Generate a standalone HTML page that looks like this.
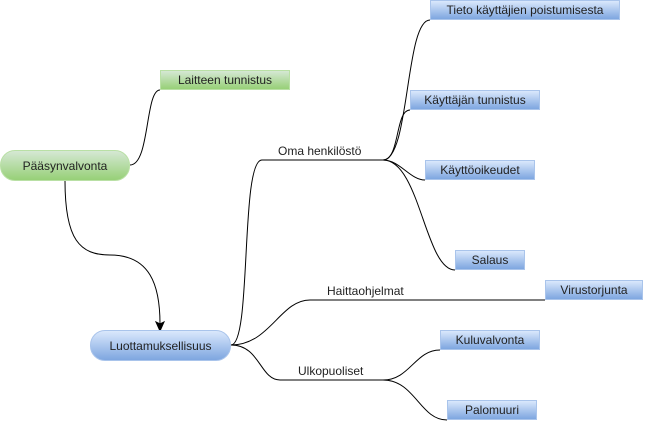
<!DOCTYPE html><html><head><style>
body{margin:0;width:646px;height:421px;background:#fff;overflow:hidden;position:relative;font-family:"Liberation Sans",sans-serif;font-size:12px;color:#222}
.b{position:absolute;display:flex;align-items:center;justify-content:center;box-sizing:border-box}
.bl{background:linear-gradient(#dae8fc,#7ea6e0);border:1px solid #a9c4eb}
.gr{background:linear-gradient(#d5e8d4,#97d077);border:1px solid #b9e0a5}
.t{position:absolute;font-size:12px}
</style></head><body>
<svg width="646" height="421" style="position:absolute;left:0;top:0" fill="none" stroke="#000" stroke-width="1">
<path d="M130,165 C150,165 145,90 160,90"/>
<path d="M65,181 C65,240 80,255 110,255 C150,255 160,285 160,324"/>
<path d="M156,322 L160,331 L164,322 L160,324 Z" fill="#000"/>
<path d="M231,345 C252,345 240,160 262,160 L383,160"/>
<path d="M383,160 C410,160 405,20 430,20"/>
<path d="M383,160 C400,160 395,110 410,110"/>
<path d="M383,160 C400,160 410,180 425,180"/>
<path d="M383,160 C420,160 425,270 455,270"/>
<path d="M231,345 C270,345 280,300 310,300 L545,300"/>
<path d="M231,345 C260,345 260,380 280,380 L383,380"/>
<path d="M383,380 C410,380 415,350 440,350"/>
<path d="M383,380 C415,380 420,420 447,420"/>
</svg>
<div class="b gr" style="left:0;width:130px;height:31px;top:150px;border-radius:15px">Pääsynvalvonta</div>
<div class="b gr" style="left:160px;top:70px;width:130px;height:20px">Laitteen tunnistus</div>
<div class="b bl" style="left:90px;top:330px;width:141px;height:31px;border-radius:15px">Luottamuksellisuus</div>
<div class="b bl" style="left:430px;top:0;width:190px;height:20px">Tieto käyttäjien poistumisesta</div>
<div class="b bl" style="left:410px;top:90px;width:130px;height:20px">Käyttäjän tunnistus</div>
<div class="b bl" style="left:425px;top:160px;width:110px;height:20px">Käyttöoikeudet</div>
<div class="b bl" style="left:455px;top:250px;width:70px;height:20px">Salaus</div>
<div class="b bl" style="left:545px;top:280px;width:98px;height:20px">Virustorjunta</div>
<div class="b bl" style="left:440px;top:330px;width:100px;height:20px">Kuluvalvonta</div>
<div class="b bl" style="left:447px;top:400px;width:90px;height:20px">Palomuuri</div>
<div class="t" style="left:278px;top:144px">Oma henkilöstö</div>
<div class="t" style="left:327px;top:284px">Haittaohjelmat</div>
<div class="t" style="left:298px;top:364px">Ulkopuoliset</div>
</body></html>
